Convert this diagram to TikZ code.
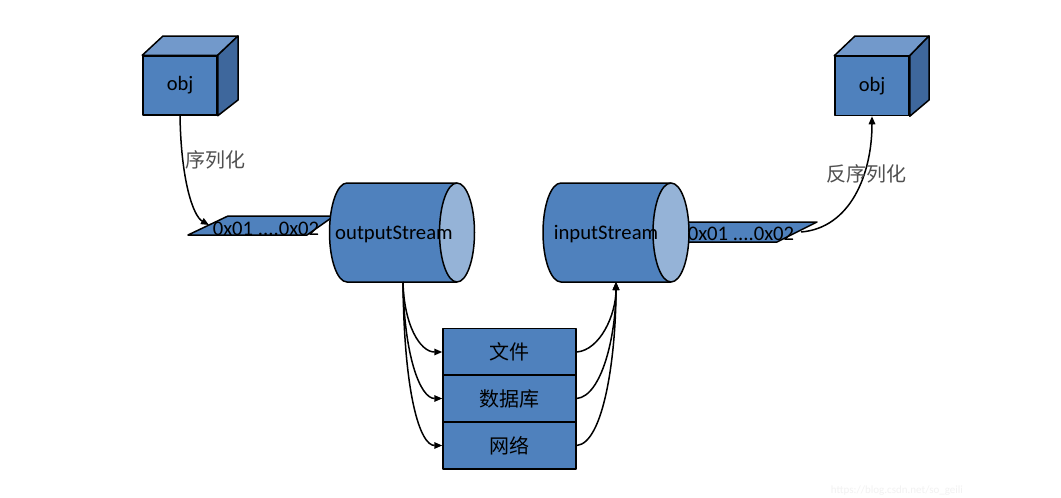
\documentclass[tikz,border=0pt]{standalone}
\usepackage{fontspec}
\setmainfont{Carlito}
\newfontfamily\cjk{Noto Sans CJK SC}
\usetikzlibrary{arrows.meta}
\definecolor{mainblue}{HTML}{4F81BD}
\definecolor{topblue}{HTML}{7299CB}
\definecolor{sideblue}{HTML}{3E679C}
\definecolor{endblue}{HTML}{95B3D7}
\definecolor{labelgray}{HTML}{505050}
\tikzset{
  outl/.style={draw=black, line width=1.5pt, line join=round},
  cubefront/.style={outl, fill=mainblue, minimum width=74pt, minimum height=59pt, inner sep=0pt, font=\fontsize{20.5}{24}\selectfont},
  storebox/.style={outl, fill=mainblue, minimum width=133pt, minimum height=47pt, inner sep=0pt, font=\cjk\fontsize{20}{24}\selectfont},
  lbl/.style={font=\fontsize{20.7}{24}\selectfont, inner sep=0pt},
  cjklbl/.style={font=\cjk\fontsize{20}{24}\selectfont, text=labelgray, inner sep=0pt},
  conn/.style={draw=black, line width=1.5pt, -{Triangle[length=8pt,width=6.5pt]}},
}
\begin{document}
\begin{tikzpicture}[x=1pt,y=-1pt]
\useasboundingbox[fill=white] (0,0) rectangle (1061,498);

% ---------- left cube ----------
\node[cubefront] (obj1) at (180,85.5) {obj};
\filldraw[outl, fill=topblue] (obj1.north west) -- (163,36) -- (238,36) -- (obj1.north east) -- cycle;
\filldraw[outl, fill=sideblue] (obj1.north east) -- (238,36) -- (238,100) -- (obj1.south east) -- cycle;

% ---------- right cube ----------
\node[cubefront] (obj2) at (872,86) {obj};
\filldraw[outl, fill=topblue] (obj2.north west) -- (855,36) -- (929,36) -- (obj2.north east) -- cycle;
\filldraw[outl, fill=sideblue] (obj2.north east) -- (929,36) -- (929,100) -- (obj2.south east) -- cycle;

% ---------- byte strips ----------
\filldraw[outl, fill=mainblue] (188,235) -- (228,216) -- (334,216) -- (307,235) -- cycle;
\filldraw[outl, fill=mainblue] (675,222) -- (817,222) -- (777,242) -- (675,242) -- cycle;

% ---------- output cylinder ----------
\fill[mainblue] (347,183) -- (457,183) -- (457,282) -- (347,282)
  arc[start angle=270, end angle=90, x radius=17.5pt, y radius=49.5pt] -- cycle;
\draw[outl] (457,183) -- (347,183)
  arc[start angle=90, end angle=270, x radius=17.5pt, y radius=49.5pt] -- (457,282);
\filldraw[outl, fill=endblue] (457,232.5) ellipse[x radius=17.5pt, y radius=49.5pt];
\node[lbl] (outs) at (394,234) {outputStream};

% ---------- input cylinder ----------
\fill[mainblue] (561,183) -- (671,183) -- (671,282) -- (561,282)
  arc[start angle=270, end angle=90, x radius=18pt, y radius=49.5pt] -- cycle;
\draw[outl] (671,183) -- (561,183)
  arc[start angle=90, end angle=270, x radius=18pt, y radius=49.5pt] -- (671,282);
\filldraw[outl, fill=endblue] (671,232.5) ellipse[x radius=18pt, y radius=49.5pt];
\node[lbl] (ins) at (606,234) {inputStream};

% ---------- byte texts ----------
\node[lbl] (bytes1) at (266,229) {0x01 ....0x02};
\node[lbl] (bytes2) at (741,234) {0x01 ....0x02};

% ---------- storage boxes ----------
\node[storebox] (file) at (509.5,352) {文件};
\node[storebox] (db) at (509.5,398.5) {数据库};
\node[storebox] (net) at (509.5,445.5) {网络};

% ---------- coordinates ----------
\coordinate (serin) at (209,225);
\coordinate (serout) at (801,232);
\coordinate (outbot) at (403,282);
\coordinate (inbot) at (616,282);

% ---------- connectors ----------
\draw[conn] (obj1.south) .. controls (181,180) and (193,216) .. (serin);
\node[cjklbl, anchor=west] (ser) at (185,160) {序列化};
\draw[conn] (serout) .. controls (850,228) and (872,175) .. (obj2.south);
\node[cjklbl] (deser) at (866,174) {反序列化};

\draw[conn] (outbot) .. controls (404,325) and (420,352) .. (file.west);
\draw[conn] (outbot) .. controls (404,355) and (420,398.5) .. (db.west);
\draw[conn] (outbot) .. controls (404,395) and (420,445.5) .. (net.west);

\draw[conn] (file.east) .. controls (600,350) and (616,315) .. (inbot);
\draw[conn] (db.east) .. controls (602,396) and (616,335) .. (inbot);
\draw[conn] (net.east) .. controls (604,443) and (616,355) .. (inbot);

% ---------- watermark ----------
\node[font=\fontsize{11}{13}\selectfont, text=black!5, inner sep=0pt] (wm) at (897,491) {https://blog.csdn.net/so\_geili};
\end{tikzpicture}
\end{document}
